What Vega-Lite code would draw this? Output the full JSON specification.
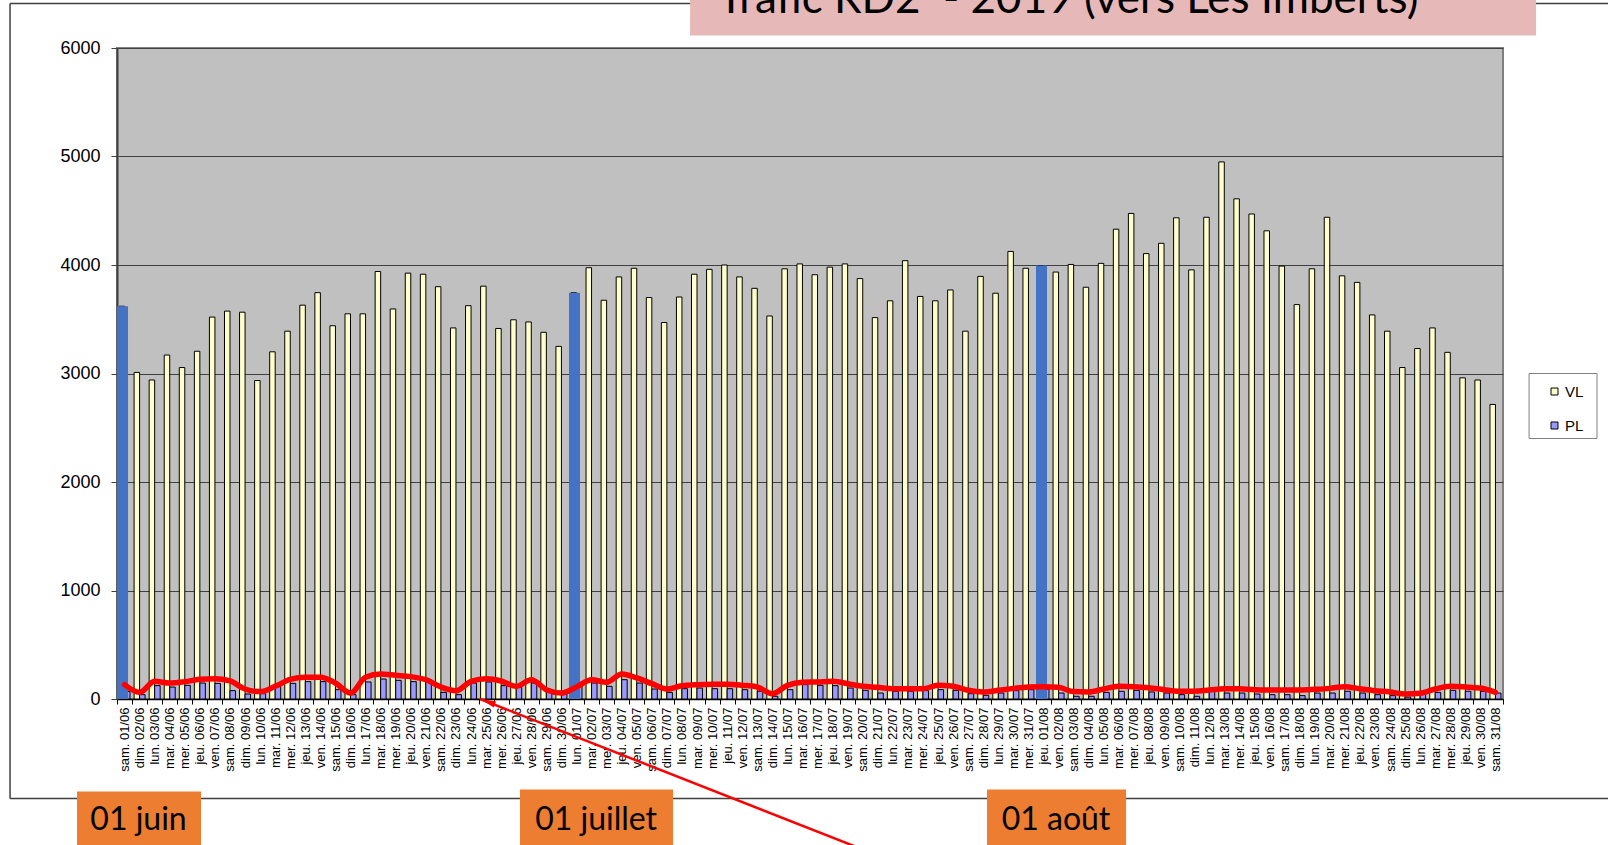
{
  "$schema": "https://vega.github.io/schema/vega-lite/v6.json",
  "width": 1386,
  "height": 651,
  "autosize": {"type": "none"},
  "padding": {"left": 117, "top": 48, "right": 105, "bottom": 146},
  "background": "white",
  "config": {
    "view": {"fill": "#C0C0C0", "stroke": "#808080", "strokeWidth": 2},
    "font": "Liberation Sans",
    "axis": {"labelFont": "Liberation Sans", "labelColor": "black"}
  },
  "resolve": {"scale": {"x": "independent"}},
  "layer": [
    {
      "data": {"values": [
        {"j":"sam. 01/06","VL":3620,"PL":70,"t":132,"b":3620},
        {"j":"dim. 02/06","VL":3010,"PL":40,"t":61,"b":0},
        {"j":"lun. 03/06","VL":2940,"PL":123,"t":163,"b":0},
        {"j":"mar. 04/06","VL":3170,"PL":110,"t":147,"b":0},
        {"j":"mer. 05/06","VL":3055,"PL":126,"t":160,"b":0},
        {"j":"jeu. 06/06","VL":3205,"PL":147,"t":181,"b":0},
        {"j":"ven. 07/06","VL":3520,"PL":144,"t":187,"b":0},
        {"j":"sam. 08/06","VL":3575,"PL":77,"t":166,"b":0},
        {"j":"dim. 09/06","VL":3565,"PL":46,"t":92,"b":0},
        {"j":"lun. 10/06","VL":2935,"PL":49,"t":68,"b":0},
        {"j":"mar. 11/06","VL":3200,"PL":123,"t":117,"b":0},
        {"j":"mer. 12/06","VL":3390,"PL":144,"t":181,"b":0},
        {"j":"jeu. 13/06","VL":3630,"PL":160,"t":200,"b":0},
        {"j":"ven. 14/06","VL":3745,"PL":160,"t":200,"b":0},
        {"j":"sam. 15/06","VL":3440,"PL":86,"t":147,"b":0},
        {"j":"dim. 16/06","VL":3550,"PL":40,"t":55,"b":0},
        {"j":"lun. 17/06","VL":3550,"PL":157,"t":200,"b":0},
        {"j":"mar. 18/06","VL":3940,"PL":184,"t":230,"b":0},
        {"j":"mer. 19/06","VL":3595,"PL":172,"t":218,"b":0},
        {"j":"jeu. 20/06","VL":3925,"PL":160,"t":206,"b":0},
        {"j":"ven. 21/06","VL":3915,"PL":178,"t":178,"b":0},
        {"j":"sam. 22/06","VL":3800,"PL":61,"t":111,"b":0},
        {"j":"dim. 23/06","VL":3420,"PL":40,"t":77,"b":0},
        {"j":"lun. 24/06","VL":3625,"PL":147,"t":163,"b":0},
        {"j":"mar. 25/06","VL":3805,"PL":157,"t":187,"b":0},
        {"j":"mer. 26/06","VL":3415,"PL":123,"t":166,"b":0},
        {"j":"jeu. 27/06","VL":3495,"PL":108,"t":117,"b":0},
        {"j":"ven. 28/06","VL":3475,"PL":147,"t":178,"b":0},
        {"j":"sam. 29/06","VL":3380,"PL":71,"t":86,"b":0},
        {"j":"dim. 30/06","VL":3250,"PL":46,"t":55,"b":0},
        {"j":"lun. 01/07","VL":3745,"PL":120,"t":111,"b":3745},
        {"j":"mar. 02/07","VL":3975,"PL":147,"t":178,"b":0},
        {"j":"mer. 03/07","VL":3675,"PL":117,"t":154,"b":0},
        {"j":"jeu. 04/07","VL":3890,"PL":178,"t":230,"b":0},
        {"j":"ven. 05/07","VL":3970,"PL":147,"t":194,"b":0},
        {"j":"sam. 06/07","VL":3700,"PL":92,"t":141,"b":0},
        {"j":"dim. 07/07","VL":3470,"PL":61,"t":92,"b":0},
        {"j":"lun. 08/07","VL":3705,"PL":95,"t":123,"b":0},
        {"j":"mar. 09/07","VL":3915,"PL":101,"t":132,"b":0},
        {"j":"mer. 10/07","VL":3960,"PL":95,"t":135,"b":0},
        {"j":"jeu. 11/07","VL":4000,"PL":95,"t":135,"b":0},
        {"j":"ven. 12/07","VL":3890,"PL":86,"t":126,"b":0},
        {"j":"sam. 13/07","VL":3785,"PL":71,"t":111,"b":0},
        {"j":"dim. 14/07","VL":3530,"PL":25,"t":49,"b":0},
        {"j":"lun. 15/07","VL":3965,"PL":86,"t":126,"b":0},
        {"j":"mar. 16/07","VL":4010,"PL":132,"t":154,"b":0},
        {"j":"mer. 17/07","VL":3910,"PL":126,"t":157,"b":0},
        {"j":"jeu. 18/07","VL":3980,"PL":123,"t":163,"b":0},
        {"j":"ven. 19/07","VL":4010,"PL":101,"t":141,"b":0},
        {"j":"sam. 20/07","VL":3875,"PL":80,"t":117,"b":0},
        {"j":"dim. 21/07","VL":3515,"PL":55,"t":108,"b":0},
        {"j":"lun. 22/07","VL":3670,"PL":71,"t":95,"b":0},
        {"j":"mar. 23/07","VL":4040,"PL":71,"t":95,"b":0},
        {"j":"mer. 24/07","VL":3710,"PL":77,"t":95,"b":0},
        {"j":"jeu. 25/07","VL":3670,"PL":86,"t":126,"b":0},
        {"j":"ven. 26/07","VL":3770,"PL":80,"t":117,"b":0},
        {"j":"sam. 27/07","VL":3390,"PL":49,"t":80,"b":0},
        {"j":"dim. 28/07","VL":3895,"PL":34,"t":65,"b":0},
        {"j":"lun. 29/07","VL":3740,"PL":55,"t":80,"b":0},
        {"j":"mar. 30/07","VL":4125,"PL":77,"t":98,"b":0},
        {"j":"mer. 31/07","VL":3970,"PL":86,"t":111,"b":0},
        {"j":"jeu. 01/08","VL":3995,"PL":90,"t":114,"b":3995},
        {"j":"ven. 02/08","VL":3935,"PL":55,"t":108,"b":0},
        {"j":"sam. 03/08","VL":4005,"PL":25,"t":68,"b":0},
        {"j":"dim. 04/08","VL":3795,"PL":25,"t":65,"b":0},
        {"j":"lun. 05/08","VL":4015,"PL":61,"t":92,"b":0},
        {"j":"mar. 06/08","VL":4330,"PL":71,"t":117,"b":0},
        {"j":"mer. 07/08","VL":4475,"PL":80,"t":114,"b":0},
        {"j":"jeu. 08/08","VL":4105,"PL":65,"t":104,"b":0},
        {"j":"ven. 09/08","VL":4200,"PL":55,"t":86,"b":0},
        {"j":"sam. 10/08","VL":4435,"PL":40,"t":71,"b":0},
        {"j":"dim. 11/08","VL":3955,"PL":25,"t":71,"b":0},
        {"j":"lun. 12/08","VL":4440,"PL":92,"t":83,"b":0},
        {"j":"mar. 13/08","VL":4950,"PL":55,"t":95,"b":0},
        {"j":"mer. 14/08","VL":4610,"PL":55,"t":95,"b":0},
        {"j":"jeu. 15/08","VL":4470,"PL":46,"t":86,"b":0},
        {"j":"ven. 16/08","VL":4315,"PL":40,"t":83,"b":0},
        {"j":"sam. 17/08","VL":3990,"PL":40,"t":83,"b":0},
        {"j":"dim. 18/08","VL":3635,"PL":31,"t":83,"b":0},
        {"j":"lun. 19/08","VL":3965,"PL":55,"t":89,"b":0},
        {"j":"mar. 20/08","VL":4440,"PL":55,"t":98,"b":0},
        {"j":"mer. 21/08","VL":3900,"PL":71,"t":114,"b":0},
        {"j":"jeu. 22/08","VL":3840,"PL":55,"t":95,"b":0},
        {"j":"ven. 23/08","VL":3540,"PL":40,"t":77,"b":0},
        {"j":"sam. 24/08","VL":3390,"PL":31,"t":65,"b":0},
        {"j":"dim. 25/08","VL":3055,"PL":18,"t":46,"b":0},
        {"j":"lun. 26/08","VL":3230,"PL":61,"t":52,"b":0},
        {"j":"mar. 27/08","VL":3420,"PL":61,"t":92,"b":0},
        {"j":"mer. 28/08","VL":3195,"PL":80,"t":117,"b":0},
        {"j":"jeu. 29/08","VL":2960,"PL":71,"t":111,"b":0},
        {"j":"ven. 30/08","VL":2940,"PL":71,"t":101,"b":0},
        {"j":"sam. 31/08","VL":2715,"PL":55,"t":61,"b":0}
      ]},
      "layer": [
        {
          "transform": [{"fold": ["VL", "PL"], "as": ["serie", "valeur"]}],
          "mark": {"type": "bar", "stroke": "black", "strokeWidth": 1},
          "encoding": {
            "x": {"field": "j", "type": "nominal", "sort": null, "title": null,
              "scale": {"paddingInner": 0, "paddingOuter": 0},
              "axis": {"labelAngle": -90, "labelFontSize": 13, "labelPadding": 3, "tickSize": 5,
                "tickColor": "black", "domainColor": "black", "domainWidth": 1.5, "tickBand": "extent",
                "labelOverlap": false, "grid": false, "zindex": 0}},
            "xOffset": {"field": "serie", "type": "nominal", "sort": ["VL", "PL"],
              "scale": {"paddingInner": 0, "paddingOuter": 0.37}},
            "y": {"field": "valeur", "type": "quantitative", "title": null,
              "scale": {"domain": [0, 6000], "nice": false},
              "axis": {"values": [0, 1000, 2000, 3000, 4000, 5000, 6000], "format": "d", "labelFontSize": 18,
                "labelPadding": 11, "tickSize": 6, "tickColor": "#404040", "domainColor": "#404040",
                "domainWidth": 2, "grid": true, "gridColor": "#404040", "gridWidth": 1, "zindex": 0}},
            "color": {"field": "serie", "type": "nominal",
              "scale": {"domain": ["VL", "PL"], "range": ["#FFFFCC", "#9999FF"]},
              "legend": {"orient": "none", "legendX": 1430, "legendY": 336, "title": null,
                "symbolType": "square", "symbolSize": 49, "symbolStrokeColor": "black",
                "symbolStrokeWidth": 1, "labelFontSize": 15, "labelFont": "Liberation Sans",
                "rowPadding": 18, "padding": 0, "labelOffset": 3}}
          }
        },
        {
          "mark": {"type": "bar", "color": "#4472C4", "width": 11, "xOffset": -2},
          "encoding": {
            "x": {"field": "j", "type": "nominal", "sort": null, "title": null},
            "y": {"field": "b", "type": "quantitative", "title": null, "scale": {"domain": [0, 6000], "nice": false}}
          }
        },
        {
          "mark": {"type": "line", "color": "#FF0000", "strokeWidth": 5.5, "interpolate": "monotone", "strokeCap": "round"},
          "encoding": {
            "x": {"field": "j", "type": "nominal", "sort": null, "title": null},
            "y": {"field": "t", "type": "quantitative", "title": null, "scale": {"domain": [0, 6000], "nice": false}}
          }
        }
      ]
    },
    {
      "layer": [
        {
          "data": {"values": [
            {"u": -7.1, "v": 6410, "u2": 100, "v2": 6410},
            {"u": -7.1, "v": 6410, "u2": -7.1, "v2": -917},
            {"u": -7.1, "v": -917, "u2": 100, "v2": -917}
          ]},
          "mark": {"type": "rule", "color": "#404040", "strokeWidth": 1.5},
          "encoding": {
            "x": {"field": "u", "type": "quantitative", "scale": {"domain": [0, 92], "nice": false, "zero": false}, "axis": null},
            "x2": {"field": "u2"},
            "y": {"field": "v", "type": "quantitative", "title": null, "scale": {"domain": [0, 6000], "nice": false}},
            "y2": {"field": "v2"}
          }
        },
        {
          "data": {"values": [{"u": 38.04, "u2": 94.19, "v": 6115, "v2": 7000}]},
          "mark": {"type": "rect", "color": "#E6B9B8"},
          "encoding": {
            "x": {"field": "u", "type": "quantitative", "scale": {"domain": [0, 92], "nice": false, "zero": false}, "axis": null},
            "x2": {"field": "u2"},
            "y": {"field": "v", "type": "quantitative", "title": null, "scale": {"domain": [0, 6000], "nice": false}},
            "y2": {"field": "v2"}
          }
        },
        {
          "data": {"values": [{"u": 39.9, "v": 6327, "txt": "Trafic RD2\u00a0 - 2019 (vers Les Imberts)"}]},
          "mark": {"type": "text", "align": "left", "baseline": "alphabetic", "font": "Lato", "fontSize": 44, "color": "black"},
          "encoding": {
            "x": {"field": "u", "type": "quantitative", "scale": {"domain": [0, 92], "nice": false, "zero": false}, "axis": null},
            "y": {"field": "v", "type": "quantitative", "title": null, "scale": {"domain": [0, 6000], "nice": false}},
            "text": {"field": "txt"}
          }
        },
        {
          "data": {"values": [{"u": 93.73, "u2": 98.24, "v": 3000, "v2": 2401}]},
          "mark": {"type": "rect", "fill": "white", "stroke": "#808080", "strokeWidth": 1},
          "encoding": {
            "x": {"field": "u", "type": "quantitative", "scale": {"domain": [0, 92], "nice": false, "zero": false}, "axis": null},
            "x2": {"field": "u2"},
            "y": {"field": "v", "type": "quantitative", "title": null, "scale": {"domain": [0, 6000], "nice": false}},
            "y2": {"field": "v2"}
          }
        },
        {
          "data": {"values": [
            {"u": -2.655, "u2": 5.576, "v": -853, "v2": -1700},
            {"u": 26.75, "u2": 36.91, "v": -834, "v2": -1700},
            {"u": 57.75, "u2": 66.98, "v": -834, "v2": -1700}
          ]},
          "mark": {"type": "rect", "color": "#ED7D31"},
          "encoding": {
            "x": {"field": "u", "type": "quantitative", "scale": {"domain": [0, 92], "nice": false, "zero": false}, "axis": null},
            "x2": {"field": "u2"},
            "y": {"field": "v", "type": "quantitative", "title": null, "scale": {"domain": [0, 6000], "nice": false}},
            "y2": {"field": "v2"}
          }
        },
        {
          "data": {"values": [
            {"u": 1.43, "v": -1203, "txt": "01 juin"},
            {"u": 31.8, "v": -1203, "txt": "01 juillet"},
            {"u": 62.33, "v": -1203, "txt": "01 août"}
          ]},
          "mark": {"type": "text", "align": "center", "baseline": "alphabetic", "font": "Lato", "fontSize": 32, "color": "black"},
          "encoding": {
            "x": {"field": "u", "type": "quantitative", "scale": {"domain": [0, 92], "nice": false, "zero": false}, "axis": null},
            "y": {"field": "v", "type": "quantitative", "title": null, "scale": {"domain": [0, 6000], "nice": false}},
            "text": {"field": "txt"}
          }
        },
        {
          "data": {"values": [{"u": 24.1, "v": 0, "u2": 55.5, "v2": -1714}]},
          "mark": {"type": "rule", "color": "#FF0000", "strokeWidth": 2.5},
          "encoding": {
            "x": {"field": "u", "type": "quantitative", "scale": {"domain": [0, 92], "nice": false, "zero": false}, "axis": null},
            "x2": {"field": "u2"},
            "y": {"field": "v", "type": "quantitative", "title": null, "scale": {"domain": [0, 6000], "nice": false}},
            "y2": {"field": "v2"}
          }
        },
        {
          "data": {"values": [{"u": 24.59, "v": -25}]},
          "mark": {"type": "point", "shape": "M0,-1L0.4,1L-0.4,1Z", "angle": 291, "size": 256, "filled": true, "color": "#FF0000", "opacity": 1},
          "encoding": {
            "x": {"field": "u", "type": "quantitative", "scale": {"domain": [0, 92], "nice": false, "zero": false}, "axis": null},
            "y": {"field": "v", "type": "quantitative", "title": null, "scale": {"domain": [0, 6000], "nice": false}}
          }
        }
      ]
    }
  ]
}
